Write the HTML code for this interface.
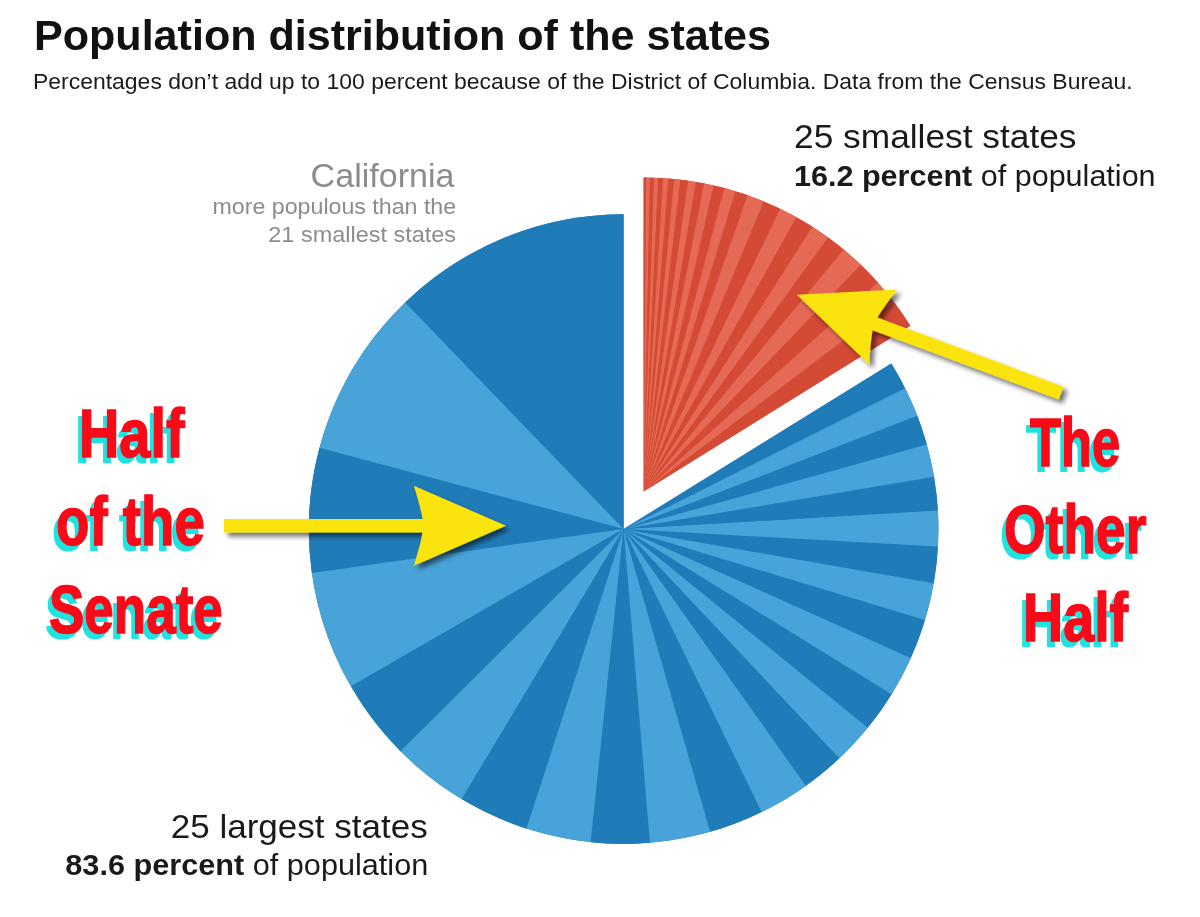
<!DOCTYPE html>
<html><head><meta charset="utf-8"><title>Population distribution of the states</title>
<style>
html,body{margin:0;padding:0;background:#fff;}
body{width:1200px;height:917px;position:relative;overflow:hidden;font-family:"Liberation Sans",sans-serif;}
svg{position:absolute;left:0;top:0;}
.t{position:absolute;white-space:nowrap;line-height:1;color:#1a1a1a;}
.t b{font-weight:bold;}
.title{font-weight:bold;color:#111;}
.gray{color:#8c8c8c;}
.meme{font-weight:bold;color:#f80a19;-webkit-text-stroke:1.5px #f80a19;}
</style></head><body>
<svg width="1200" height="917" viewBox="0 0 1200 917">
<defs><filter id="sh" x="-20%" y="-20%" width="140%" height="140%"><feDropShadow dx="4" dy="4" stdDeviation="2.5" flood-color="#000" flood-opacity="0.55"/></filter></defs>
<g>
<path d="M623.60 529.10L623.60 214.30A314.8 314.8 0 1 0 891.32 363.49Z" fill="#207cb8"/>
<path d="M623.60 529.10L623.60 214.30A314.8 314.8 0 0 0 404.65 302.92Z" fill="#207cb8"/>
<path d="M623.60 529.10L405.12 302.46A314.8 314.8 0 0 0 319.30 448.47Z" fill="#47a3d8"/>
<path d="M623.60 529.10L319.47 447.84A314.8 314.8 0 0 0 311.96 573.62Z" fill="#207cb8"/>
<path d="M623.60 529.10L311.87 572.97A314.8 314.8 0 0 0 351.22 686.93Z" fill="#47a3d8"/>
<path d="M623.60 529.10L350.89 686.36A314.8 314.8 0 0 0 401.00 751.70Z" fill="#207cb8"/>
<path d="M623.60 529.10L400.54 751.23A314.8 314.8 0 0 0 462.17 799.36Z" fill="#47a3d8"/>
<path d="M623.60 529.10L461.61 799.02A314.8 314.8 0 0 0 527.16 828.76Z" fill="#207cb8"/>
<path d="M623.60 529.10L526.53 828.56A314.8 314.8 0 0 0 591.24 842.23Z" fill="#47a3d8"/>
<path d="M623.60 529.10L590.59 842.16A314.8 314.8 0 0 0 650.56 842.74Z" fill="#207cb8"/>
<path d="M623.60 529.10L649.90 842.80A314.8 314.8 0 0 0 710.70 831.61Z" fill="#47a3d8"/>
<path d="M623.60 529.10L710.07 831.79A314.8 314.8 0 0 0 762.29 811.70Z" fill="#207cb8"/>
<path d="M623.60 529.10L761.69 811.99A314.8 314.8 0 0 0 806.37 785.41Z" fill="#47a3d8"/>
<path d="M623.60 529.10L805.84 785.79A314.8 314.8 0 0 0 839.85 757.86Z" fill="#207cb8"/>
<path d="M623.60 529.10L839.37 758.32A314.8 314.8 0 0 0 868.16 727.32Z" fill="#47a3d8"/>
<path d="M623.60 529.10L867.74 727.83A314.8 314.8 0 0 0 891.98 693.63Z" fill="#207cb8"/>
<path d="M623.60 529.10L891.64 694.19A314.8 314.8 0 0 0 911.06 657.41Z" fill="#47a3d8"/>
<path d="M623.60 529.10L910.80 658.01A314.8 314.8 0 0 0 925.16 619.43Z" fill="#207cb8"/>
<path d="M623.60 529.10L924.97 620.06A314.8 314.8 0 0 0 933.80 582.69Z" fill="#47a3d8"/>
<path d="M623.60 529.10L933.69 583.34A314.8 314.8 0 0 0 937.95 545.86Z" fill="#207cb8"/>
<path d="M623.60 529.10L937.92 546.52A314.8 314.8 0 0 0 937.82 509.92Z" fill="#47a3d8"/>
<path d="M623.60 529.10L937.85 510.58A314.8 314.8 0 0 0 933.92 476.18Z" fill="#207cb8"/>
<path d="M623.60 529.10L934.03 476.83A314.8 314.8 0 0 0 926.66 443.92Z" fill="#47a3d8"/>
<path d="M623.60 529.10L926.83 444.56A314.8 314.8 0 0 0 917.04 415.11Z" fill="#207cb8"/>
<path d="M623.60 529.10L917.27 415.72A314.8 314.8 0 0 0 904.83 387.64Z" fill="#47a3d8"/>
<path d="M623.60 529.10L905.12 388.23A314.8 314.8 0 0 0 891.32 363.49Z" fill="#207cb8"/>
<path d="M643.60 491.50L643.60 177.50A314 314 0 0 1 910.32 325.80Z" fill="#d44a35"/>
<path d="M643.60 491.50L643.60 177.50A314 314 0 0 1 646.69 177.52Z" fill="#d44a35"/>
<path d="M643.60 491.50L646.25 177.51A314 314 0 0 1 650.26 177.57Z" fill="#e56a55"/>
<path d="M643.60 491.50L649.82 177.56A314 314 0 0 1 654.39 177.69Z" fill="#d44a35"/>
<path d="M643.60 491.50L653.95 177.67A314 314 0 0 1 658.60 177.86Z" fill="#e56a55"/>
<path d="M643.60 491.50L658.17 177.84A314 314 0 0 1 663.47 178.13Z" fill="#d44a35"/>
<path d="M643.60 491.50L663.03 178.10A314 314 0 0 1 668.82 178.51Z" fill="#e56a55"/>
<path d="M643.60 491.50L668.38 178.48A314 314 0 0 1 674.70 179.04Z" fill="#d44a35"/>
<path d="M643.60 491.50L674.27 179.00A314 314 0 0 1 680.82 179.71Z" fill="#e56a55"/>
<path d="M643.60 491.50L680.39 179.66A314 314 0 0 1 688.55 180.73Z" fill="#d44a35"/>
<path d="M643.60 491.50L688.12 180.67A314 314 0 0 1 696.33 181.96Z" fill="#e56a55"/>
<path d="M643.60 491.50L695.90 181.89A314 314 0 0 1 704.57 183.48Z" fill="#d44a35"/>
<path d="M643.60 491.50L704.14 183.39A314 314 0 0 1 714.03 185.50Z" fill="#e56a55"/>
<path d="M643.60 491.50L713.61 185.40A314 314 0 0 1 724.92 188.21Z" fill="#d44a35"/>
<path d="M643.60 491.50L724.49 188.10A314 314 0 0 1 735.85 191.36Z" fill="#e56a55"/>
<path d="M643.60 491.50L735.44 191.23A314 314 0 0 1 748.00 195.37Z" fill="#d44a35"/>
<path d="M643.60 491.50L747.59 195.22A314 314 0 0 1 764.11 201.55Z" fill="#e56a55"/>
<path d="M643.60 491.50L763.71 201.38A314 314 0 0 1 780.57 208.95Z" fill="#d44a35"/>
<path d="M643.60 491.50L780.17 208.76A314 314 0 0 1 796.73 217.37Z" fill="#e56a55"/>
<path d="M643.60 491.50L796.34 217.15A314 314 0 0 1 812.78 226.97Z" fill="#d44a35"/>
<path d="M643.60 491.50L812.41 226.73A314 314 0 0 1 828.47 237.69Z" fill="#e56a55"/>
<path d="M643.60 491.50L828.11 237.43A314 314 0 0 1 844.03 249.79Z" fill="#d44a35"/>
<path d="M643.60 491.50L843.69 249.51A314 314 0 0 1 861.19 265.11Z" fill="#e56a55"/>
<path d="M643.60 491.50L860.87 264.81A314 314 0 0 1 878.30 282.90Z" fill="#d44a35"/>
<path d="M643.60 491.50L878.01 282.57A314 314 0 0 1 894.26 302.39Z" fill="#e56a55"/>
<path d="M643.60 491.50L894.00 302.04A314 314 0 0 1 910.32 325.80Z" fill="#d44a35"/>
</g>
<g filter="url(#sh)"><g transform="translate(506 525.75) rotate(0)" ><path id="a1" d="M0 0 L-92.1 -40 Q-85.4 -18.0 -83.4 -6.85 L-282 -6.85 L-282 6.85 L-83.4 6.85 Q-85.4 18.0 -92.1 40 Z" fill="#fbe309"/></g></g><g filter="url(#sh)"><g transform="translate(796.8 294.8) rotate(200.4)" ><path id="a2" d="M0 0 L-92.1 -40 Q-85.4 -18.0 -83.4 -6.85 L-282 -6.85 L-282 6.85 L-83.4 6.85 Q-85.4 18.0 -92.1 40 Z" fill="#fbe309"/></g></g>
</svg>
<div class="t title" id="title" style="font-size:43px;top:14px;left:33.8px;transform-origin:0 0;transform:scaleX(1.0016);">Population distribution of the states</div>
<div class="t " id="sub" style="font-size:22px;top:71px;left:33.31px;transform-origin:0 0;transform:scaleX(1.0432);">Percentages don’t add up to 100 percent because of the District of Columbia. Data from the Census Bureau.</div>
<div class="t " id="s1" style="font-size:33px;top:120px;left:793.66px;transform-origin:0 0;transform:scaleX(1.0697);">25 smallest states</div>
<div class="t " id="s2" style="font-size:30px;top:161px;left:793.96px;transform-origin:0 0;transform:scaleX(1.0179);"><b>16.2 percent</b> of population</div>
<div class="t gray" id="c1" style="font-size:33px;top:159px;right:745.28px;transform-origin:100% 0;transform:scaleX(1.0314);">California</div>
<div class="t gray" id="c2" style="font-size:22px;top:196px;right:743.46px;transform-origin:100% 0;transform:scaleX(1.0539);">more populous than the</div>
<div class="t gray" id="c3" style="font-size:22px;top:224px;right:743.55px;transform-origin:100% 0;transform:scaleX(1.0664);">21 smallest states</div>
<div class="t " id="l1" style="font-size:33.5px;top:810px;right:772.35px;transform-origin:100% 0;transform:scaleX(1.0461);">25 largest states</div>
<div class="t " id="l2" style="font-size:30px;top:850px;right:772.00px;transform-origin:100% 0;transform:scaleX(1.0216);"><b>83.6 percent</b> of population</div>
<div class="t meme" id="m1" style="font-size:68px;top:399px;left:78.71px;transform-origin:0 0;transform:scaleX(0.8216);text-shadow:-5.36px 5.5px 0 #1fe3de;">Half</div>
<div class="t meme" id="m2" style="font-size:68px;top:487px;left:55.99px;transform-origin:0 0;transform:scaleX(0.8039);text-shadow:-5.47px 5.5px 0 #1fe3de;">of the</div>
<div class="t meme" id="m3" style="font-size:68px;top:575px;left:49.42px;transform-origin:0 0;transform:scaleX(0.7791);text-shadow:-5.65px 5.5px 0 #1fe3de;">Senate</div>
<div class="t meme" id="m4" style="font-size:68px;top:408px;left:1029.8px;transform-origin:0 0;transform:scaleX(0.7471);text-shadow:-5.89px 5.5px 0 #1fe3de;">The</div>
<div class="t meme" id="m5" style="font-size:68px;top:495px;left:1003.73px;transform-origin:0 0;transform:scaleX(0.7866);text-shadow:-5.59px 5.5px 0 #1fe3de;">Other</div>
<div class="t meme" id="m6" style="font-size:68px;top:583px;left:1023.23px;transform-origin:0 0;transform:scaleX(0.8184);text-shadow:-5.38px 5.5px 0 #1fe3de;">Half</div>
</body></html>
